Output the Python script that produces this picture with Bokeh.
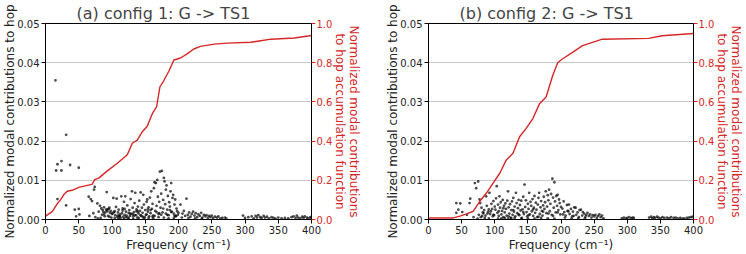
from bokeh.plotting import figure
from bokeh.models import Range1d, LinearAxis, FixedTicker, NumeralTickFormatter
from bokeh.layouts import row
from bokeh.embed import file_html
from bokeh.resources import INLINE

RED = "#d62728"
FONT = "DejaVu Sans"

x_ticks = [0, 50, 100, 150, 200, 250, 300, 350, 400]
left_ticks = [0.0, 0.01, 0.02, 0.03, 0.04, 0.05]
right_ticks = [0.0, 0.2, 0.4, 0.6, 0.8, 1.0]

title_a = "(a) config 1: G -> TS1"
title_b = "(b) config 2: G -> TS1"

# ---------------- panel (a) ----------------
freq_a = [15, 31, 16, 18, 24, 24, 37, 50, 18, 31, 44, 50, 46, 51,
          65, 68, 73, 74, 70, 78, 66, 72, 75, 80, 82, 84, 86, 88, 90, 92, 93, 95, 96, 98, 99, 100,
          85, 89, 91, 97, 83, 87, 94, 79,
          102, 104, 105, 106, 107, 108, 109, 110, 111, 112, 113, 114, 115, 116, 117, 118, 119, 120,
          121, 122, 123, 124, 125, 126, 127, 128, 129, 130, 131, 132, 133, 134, 135, 136, 137, 138,
          139, 140, 141, 142, 143, 144, 145, 146, 147, 148, 149, 150,
          151, 152, 153, 154, 155, 156, 157, 158, 159, 160, 161, 162, 163, 164, 165, 166, 167, 168,
          169, 170, 171, 172, 173, 174, 175, 176, 177, 178, 179, 180, 181, 182, 183, 184, 185, 186,
          187, 188, 189, 190, 191, 192, 193, 194, 195, 196, 197, 198, 199, 200,
          155, 162, 170, 178, 185, 193, 148, 140, 132, 125, 118, 110, 104,
          203, 206, 208, 210, 212, 214, 216, 218, 220, 222, 224, 226, 228, 230, 232, 234, 236, 238,
          240, 242, 244, 246, 248, 250, 252, 255, 258, 260, 263, 266, 270, 272, 205, 215, 225, 235,
          297, 300, 305, 310, 313, 316, 318, 320, 323, 325, 328, 330, 333, 336, 340, 343, 346, 350,
          355, 360, 365, 370, 373, 376, 378, 380, 383, 386, 388, 390, 393, 395, 398, 400,
          88, 96, 103, 109, 116, 121, 127, 134, 139, 146, 152, 158, 164, 171, 177, 183, 189, 196,
          93, 101, 112, 119, 131, 137, 143, 154, 161, 167, 174, 181, 187, 194]
contrib_a = [0.0355, 0.0216, 0.0125, 0.0141, 0.0125, 0.0149, 0.0139, 0.0132, 0.0052, 0.0036, 0.0025, 0.0027, 0.0008, 0.0013,
             0.0058, 0.0052, 0.0076, 0.0083, 0.0047, 0.0041, 0.0009, 0.0016, 0.0006, 0.0020, 0.0035, 0.0028, 0.0024, 0.0031,
             0.0018, 0.0070, 0.0026, 0.0027, 0.0030, 0.0022, 0.0005, 0.0014,
             0.0012, 0.0008, 0.0025, 0.0017, 0.0004, 0.0019, 0.0009, 0.0003,
             0.0055, 0.0021, 0.0011, 0.0032, 0.0053, 0.0006, 0.0018, 0.0025, 0.0009, 0.0013, 0.0004, 0.0059, 0.0016, 0.0028,
             0.0007, 0.0045, 0.0012, 0.0059, 0.0020, 0.0010, 0.0036, 0.0005, 0.0017, 0.0024, 0.0009, 0.0052, 0.0014, 0.0072,
             0.0030, 0.0008, 0.0019, 0.0042, 0.0068, 0.0011, 0.0026, 0.0005, 0.0033, 0.0015, 0.0048, 0.0022, 0.0069, 0.0009,
             0.0030, 0.0017, 0.0063, 0.0038, 0.0006, 0.0024,
             0.0012, 0.0045, 0.0051, 0.0020, 0.0031, 0.0008, 0.0056, 0.0016, 0.0072, 0.0027, 0.0040, 0.0010, 0.0080, 0.0095,
             0.0022, 0.0093, 0.0035, 0.0101, 0.0058, 0.0014, 0.0045, 0.0122, 0.0030, 0.0066, 0.0124, 0.0018, 0.0050, 0.0106,
             0.0097, 0.0039, 0.0076, 0.0087, 0.0025, 0.0060, 0.0011, 0.0044, 0.0033, 0.0072, 0.0093, 0.0020, 0.0055, 0.0063,
             0.0015, 0.0038, 0.0051, 0.0009, 0.0028, 0.0021, 0.0012, 0.0017,
             0.0004, 0.0003, 0.0006, 0.0005, 0.0003, 0.0004, 0.0003, 0.0004, 0.0002, 0.0003, 0.0002, 0.0003, 0.0004,
             0.0038, 0.0015, 0.0022, 0.0009, 0.0053, 0.0012, 0.0018, 0.0007, 0.0014, 0.0020, 0.0010, 0.0016, 0.0006, 0.0013,
             0.0009, 0.0017, 0.0005, 0.0012, 0.0008, 0.0011, 0.0004, 0.0009, 0.0006, 0.0010, 0.0004, 0.0007, 0.0005, 0.0008,
             0.0003, 0.0004, 0.0005, 0.0002, 0.0005, 0.0004, 0.0003, 0.0002,
             0.0010, 0.0004, 0.0006, 0.0008, 0.0003, 0.0009, 0.0005, 0.0011, 0.0006, 0.0004, 0.0009, 0.0005, 0.0007, 0.0003,
             0.0006, 0.0004, 0.0002, 0.0005, 0.0003, 0.0004, 0.0003, 0.0006, 0.0008, 0.0004, 0.0010, 0.0005, 0.0003, 0.0007,
             0.0004, 0.0008, 0.0005, 0.0003, 0.0006, 0.0004,
             0.0013, 0.0007, 0.0019, 0.0010, 0.0023, 0.0006, 0.0015, 0.0011, 0.0020, 0.0007, 0.0013, 0.0024, 0.0009, 0.0016,
             0.0028, 0.0012, 0.0019, 0.0008,
             0.0021, 0.0016, 0.0008, 0.0027, 0.0014, 0.0021, 0.0011, 0.0026, 0.0007, 0.0019, 0.0012, 0.0015, 0.0024, 0.0010]
cum_freq_a = [0, 10, 17.6, 22.6, 27.6, 32.6, 40, 50, 62.7, 70, 74, 80, 93, 108, 123, 130.5, 138, 145.6, 153,
              160.6, 167, 172, 178, 186, 193, 203, 213, 223, 233, 253.5, 273.6, 308.7, 323.8, 339, 374, 400]
cum_a = [0.017, 0.04, 0.08, 0.10, 0.127, 0.144, 0.149, 0.164, 0.174, 0.179, 0.203, 0.211, 0.248, 0.287, 0.33,
         0.389, 0.405, 0.448, 0.476, 0.54, 0.574, 0.676, 0.709, 0.76, 0.814, 0.824, 0.845, 0.87, 0.883, 0.895,
         0.90, 0.904, 0.912, 0.92, 0.926, 0.939]

# ---------------- panel (b) ----------------
freq_b = [42, 48, 45, 42, 51, 62, 63, 58, 70, 75, 72, 68, 74,
          77, 78, 80, 82, 84, 86, 87, 88, 90, 92, 93, 95, 96, 97, 98, 100, 76, 79, 81, 85, 89, 91, 94, 99,
          101, 102, 103, 104, 105, 106, 107, 108, 109, 110, 111, 112, 113, 114, 115, 116, 117, 118, 119, 120,
          121, 122, 123, 124, 125, 126, 127, 128, 129, 130, 131, 132, 133, 134, 135, 136, 137, 138, 139, 140,
          141, 142, 143, 144, 145, 146, 147, 148, 149, 150,
          151, 152, 153, 154, 155, 156, 157, 158, 159, 160, 161, 162, 163, 164, 165, 166, 167, 168, 169, 170,
          171, 172, 173, 174, 175, 176, 177, 178, 179, 180, 181, 182, 183, 184, 185, 186, 187, 188, 189, 190,
          191, 192, 193, 194, 195, 196, 197, 198, 199, 200,
          110, 120, 130, 140, 150, 160, 170, 180, 190, 105, 115, 125,
          202, 204, 205, 207, 209, 210, 212, 213, 215, 217, 218, 220, 222, 223, 225, 227, 228, 230, 232, 233,
          235, 237, 238, 240, 242, 244, 246, 248, 250, 252, 254, 256, 258, 260, 262, 264, 206, 216, 226, 236,
          292, 295, 298, 300, 303, 306, 308, 310, 333, 336, 338, 340, 342, 345, 347, 350, 353, 356, 360, 363,
          366, 370, 373, 376, 380, 383, 386, 390, 393, 396, 399,
          83, 91, 98, 106, 113, 121, 128, 136, 143, 151, 158, 166, 173, 181, 188, 195, 203, 211, 219]
contrib_b = [0.0042, 0.0041, 0.0025, 0.0017, 0.0019, 0.0042, 0.0053, 0.0012, 0.0093, 0.0097, 0.0080, 0.0006, 0.0002,
             0.0051, 0.0042, 0.0030, 0.0018, 0.0024, 0.0010, 0.0059, 0.0035, 0.0020, 0.0068, 0.0014, 0.0040, 0.0027,
             0.0008, 0.0047, 0.0033, 0.0012, 0.0006, 0.0009, 0.0004, 0.0015, 0.0003, 0.0021, 0.0011,
             0.0025, 0.0054, 0.0085, 0.0017, 0.0038, 0.0009, 0.0059, 0.0030, 0.0044, 0.0013, 0.0022, 0.0050, 0.0006,
             0.0035, 0.0018, 0.0041, 0.0027, 0.0010, 0.0048, 0.0072, 0.0031, 0.0015, 0.0039, 0.0005, 0.0024, 0.0046,
             0.0012, 0.0055, 0.0020, 0.0033, 0.0008, 0.0068, 0.0042, 0.0016, 0.0029, 0.0050, 0.0011, 0.0037, 0.0023,
             0.0048, 0.0004, 0.0026, 0.0058, 0.0014, 0.0089, 0.0032, 0.0049, 0.0019, 0.0008, 0.0040,
             0.0027, 0.0068, 0.0013, 0.0045, 0.0035, 0.0021, 0.0052, 0.0009, 0.0030, 0.0060, 0.0017, 0.0043, 0.0025,
             0.0006, 0.0038, 0.0055, 0.0068, 0.0014, 0.0031, 0.0047, 0.0022, 0.0010, 0.0036, 0.0058, 0.0027, 0.0044,
             0.0072, 0.0016, 0.0033, 0.0062, 0.0049, 0.0076, 0.0021, 0.0040, 0.0065, 0.0012, 0.0104, 0.0056, 0.0030,
             0.0095, 0.0046, 0.0018, 0.0060, 0.0035, 0.0063, 0.0024, 0.0051, 0.0042, 0.0013, 0.0032,
             0.0003, 0.0002, 0.0004, 0.0002, 0.0003, 0.0002, 0.0004, 0.0003, 0.0002, 0.0002, 0.0004, 0.0003,
             0.0028, 0.0046, 0.0019, 0.0010, 0.0037, 0.0022, 0.0038, 0.0014, 0.0027, 0.0008, 0.0020, 0.0031, 0.0030,
             0.0012, 0.0018, 0.0006, 0.0024, 0.0025, 0.0010, 0.0019, 0.0015, 0.0007, 0.0012, 0.0017, 0.0009, 0.0013,
             0.0005, 0.0011, 0.0008, 0.0012, 0.0004, 0.0009, 0.0013, 0.0006, 0.0010, 0.0003, 0.0005, 0.0003, 0.0002,
             0.0003,
             0.0003, 0.0005, 0.0002, 0.0004, 0.0006, 0.0003, 0.0005, 0.0004, 0.0005, 0.0007, 0.0003, 0.0006, 0.0004,
             0.0007, 0.0005, 0.0003, 0.0006, 0.0004, 0.0005, 0.0003, 0.0006, 0.0004, 0.0005, 0.0003, 0.0004, 0.0002,
             0.0003, 0.0004, 0.0005, 0.0006, 0.0007,
             0.0016, 0.0026, 0.0012, 0.0021, 0.0029, 0.0008, 0.0024, 0.0013, 0.0019, 0.0011, 0.0026, 0.0007, 0.0020,
             0.0015, 0.0009, 0.0018, 0.0013, 0.0021, 0.0009]
cum_freq_b = [0, 37.5, 47.5, 57.5, 67.5, 77.5, 87.5, 97.5, 107.5, 117.5, 127.5, 137.5, 147.5, 157.5, 167.5,
              177.5, 187.5, 195, 202.5, 217.5, 232.5, 247.5, 262.5, 332.5, 352.5, 400]
cum_b = [0.008, 0.008, 0.017, 0.029, 0.042, 0.093, 0.135, 0.186, 0.236, 0.304, 0.338, 0.422, 0.465, 0.515, 0.59,
         0.625, 0.735, 0.80, 0.82, 0.853, 0.887, 0.904, 0.92, 0.924, 0.9375, 0.949]


def make_panel(title, freq, contrib, cfreq, cum, left_border, right_border):
    p = figure(width=373, height=254, output_backend="svg", toolbar_location=None,
               x_range=Range1d(0, 400), y_range=Range1d(0, 0.05),
               min_border_left=left_border, min_border_right=right_border,
               min_border_top=0, min_border_bottom=30, background_fill_color="white")
    p.extra_y_ranges = {"cum": Range1d(0, 1)}

    p.title.text = title
    p.title.text_font = FONT
    p.title.text_font_size = "16px"
    p.title.text_font_style = "normal"
    p.title.align = "left"
    p.title.offset = 31
    p.title.standoff = 2

    p.xaxis.ticker = FixedTicker(ticks=x_ticks)
    p.yaxis.ticker = FixedTicker(ticks=left_ticks)
    p.yaxis.formatter = NumeralTickFormatter(format="0.00")
    p.xaxis.formatter = NumeralTickFormatter(format="0")
    p.xgrid.visible = False
    p.ygrid.ticker = FixedTicker(ticks=left_ticks)
    p.ygrid.grid_line_color = "#c8c8c8"
    p.ygrid.grid_line_width = 1
    p.outline_line_color = "black"

    p.xaxis.axis_label = "Frequency (cm\u207b\u00b9)"
    p.yaxis.axis_label = "Normalized modal contributions to hop"

    ax_r = LinearAxis(y_range_name="cum", ticker=FixedTicker(ticks=right_ticks),
                      formatter=NumeralTickFormatter(format="0.0"),
                      axis_label="Normalized modal contributions\nto hop accumulation function")
    p.add_layout(ax_r, "right")

    for ax in (p.xaxis[0], p.yaxis[0], ax_r):
        ax.major_label_text_font = FONT
        ax.major_label_text_font_size = "10px"
        ax.axis_label_text_font = FONT
        ax.axis_label_text_font_size = "12px"
        ax.axis_label_text_font_style = "normal"
        ax.major_tick_out = 4
        ax.major_tick_in = 0
        ax.minor_tick_out = 0
        ax.minor_tick_in = 0
        ax.major_label_standoff = 2
        ax.axis_label_standoff = 0
        ax.axis_line_color = "black"
        ax.major_tick_line_color = "black"
        ax.major_label_text_color = "#222222"
        ax.axis_label_text_color = "#222222"
    p.xaxis[0].axis_label_standoff = 1
    p.yaxis[0].axis_label_standoff = -3
    ax_r.major_label_text_color = RED
    ax_r.axis_label_text_color = RED
    ax_r.major_tick_line_color = RED
    ax_r.major_label_standoff = 1
    ax_r.axis_label_standoff = -2
    ax_r.axis_label_text_line_height = 1.0

    p.scatter(freq, contrib, size=2.8, marker="circle", fill_color="black", fill_alpha=0.7, line_color=None)
    p.line(cfreq, cum, y_range_name="cum", line_color=RED, line_width=1.4)
    return p


pa = make_panel(title_a, freq_a, contrib_a, cum_freq_a, cum_a, 45, 62)
pb = make_panel(title_b, freq_b, contrib_b, cum_freq_b, cum_b, 55, 51)

layout = row(pa, pb)
open("out.html", "w").write(file_html(layout, INLINE))
